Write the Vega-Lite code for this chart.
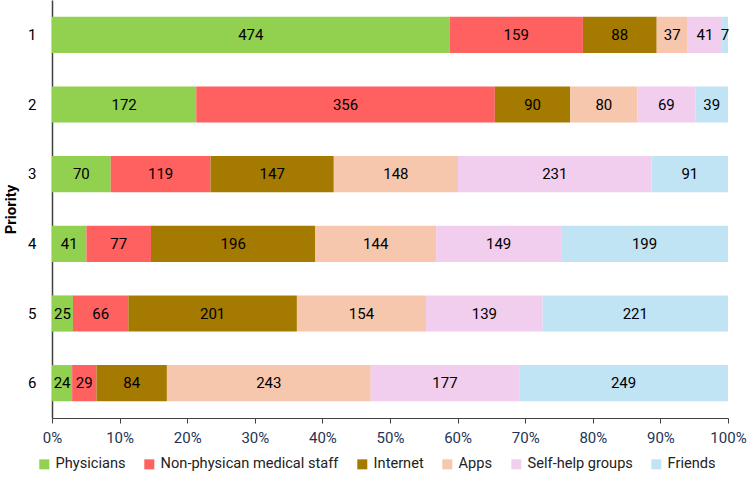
{
  "$schema": "https://vega.github.io/schema/vega-lite/v6.json",
  "autosize": "none",
  "width": 676,
  "height": 418,
  "padding": {"left": 52, "top": 0, "right": 22, "bottom": 63},
  "background": "white",
  "config": {"font": "Roboto", "view": {"stroke": null}},
  "data": {
    "values": [
      {"priority": "1", "category": "Physicians", "ord": 1, "count": 474},
      {"priority": "1", "category": "Non-physican medical staff", "ord": 2, "count": 159},
      {"priority": "1", "category": "Internet", "ord": 3, "count": 88},
      {"priority": "1", "category": "Apps", "ord": 4, "count": 37},
      {"priority": "1", "category": "Self-help groups", "ord": 5, "count": 41},
      {"priority": "1", "category": "Friends", "ord": 6, "count": 7},
      {"priority": "2", "category": "Physicians", "ord": 1, "count": 172},
      {"priority": "2", "category": "Non-physican medical staff", "ord": 2, "count": 356},
      {"priority": "2", "category": "Internet", "ord": 3, "count": 90},
      {"priority": "2", "category": "Apps", "ord": 4, "count": 80},
      {"priority": "2", "category": "Self-help groups", "ord": 5, "count": 69},
      {"priority": "2", "category": "Friends", "ord": 6, "count": 39},
      {"priority": "3", "category": "Physicians", "ord": 1, "count": 70},
      {"priority": "3", "category": "Non-physican medical staff", "ord": 2, "count": 119},
      {"priority": "3", "category": "Internet", "ord": 3, "count": 147},
      {"priority": "3", "category": "Apps", "ord": 4, "count": 148},
      {"priority": "3", "category": "Self-help groups", "ord": 5, "count": 231},
      {"priority": "3", "category": "Friends", "ord": 6, "count": 91},
      {"priority": "4", "category": "Physicians", "ord": 1, "count": 41},
      {"priority": "4", "category": "Non-physican medical staff", "ord": 2, "count": 77},
      {"priority": "4", "category": "Internet", "ord": 3, "count": 196},
      {"priority": "4", "category": "Apps", "ord": 4, "count": 144},
      {"priority": "4", "category": "Self-help groups", "ord": 5, "count": 149},
      {"priority": "4", "category": "Friends", "ord": 6, "count": 199},
      {"priority": "5", "category": "Physicians", "ord": 1, "count": 25},
      {"priority": "5", "category": "Non-physican medical staff", "ord": 2, "count": 66},
      {"priority": "5", "category": "Internet", "ord": 3, "count": 201},
      {"priority": "5", "category": "Apps", "ord": 4, "count": 154},
      {"priority": "5", "category": "Self-help groups", "ord": 5, "count": 139},
      {"priority": "5", "category": "Friends", "ord": 6, "count": 221},
      {"priority": "6", "category": "Physicians", "ord": 1, "count": 24},
      {"priority": "6", "category": "Non-physican medical staff", "ord": 2, "count": 29},
      {"priority": "6", "category": "Internet", "ord": 3, "count": 84},
      {"priority": "6", "category": "Apps", "ord": 4, "count": 243},
      {"priority": "6", "category": "Self-help groups", "ord": 5, "count": 177},
      {"priority": "6", "category": "Friends", "ord": 6, "count": 249}
    ]
  },
  "transform": [
    {"stack": "count", "groupby": ["priority"], "sort": [{"field": "ord", "order": "ascending"}], "offset": "normalize", "as": ["x0", "x1"]},
    {"calculate": "(datum.x0 + datum.x1) / 2", "as": "xm"}
  ],
  "encoding": {
    "y": {
      "field": "priority",
      "type": "ordinal",
      "sort": ["1", "2", "3", "4", "5", "6"],
      "scale": {"paddingInner": 0.48, "paddingOuter": 0.24},
      "axis": {
        "title": "Priority",
        "titleFontWeight": "bold",
        "titleFontSize": 15,
        "titleColor": "#000000",
        "titleAngle": -90,
        "titleX": -42,
        "titleY": 209,
        "titleAlign": "center",
        "titleBaseline": "middle",
        "ticks": false,
        "labelPadding": 16,
        "labelFontSize": 15,
        "labelColor": "#000000",
        "domainColor": "#404040",
        "domainWidth": 1.5
      }
    }
  },
  "layer": [
    {
      "mark": {"type": "bar"},
      "encoding": {
        "x": {
          "field": "x0",
          "type": "quantitative",
          "scale": {"domain": [0, 1], "nice": false},
          "axis": {
            "title": null,
            "values": [0, 0.05, 0.1, 0.15, 0.2, 0.25, 0.3, 0.35, 0.4, 0.45, 0.5, 0.55, 0.6, 0.65, 0.7, 0.75, 0.8, 0.85, 0.9, 0.95, 1],
            "labelExpr": "round(datum.value * 20) % 2 == 0 ? format(datum.value, '.0%') : ''",
            "grid": false,
            "tickSize": 5,
            "tickColor": "#404040",
            "domainColor": "#404040",
            "domainWidth": 1.2,
            "labelFontSize": 15,
            "labelColor": "#1F3455",
            "labelPadding": 7,
            "labelFlush": false
          }
        },
        "x2": {"field": "x1"},
        "color": {
          "field": "category",
          "type": "nominal",
          "scale": {
            "domain": ["Physicians", "Non-physican medical staff", "Internet", "Apps", "Self-help groups", "Friends"],
            "range": ["#92D050", "#FF6161", "#A57A00", "#F6C6AD", "#F2CEEE", "#C1E4F5"]
          },
          "legend": {
            "title": null,
            "orient": "none",
            "direction": "horizontal",
            "legendX": -15,
            "legendY": 457,
            "symbolType": "square",
            "symbolSize": 100,
            "symbolStrokeWidth": 0,
            "labelFontSize": 14.6,
            "labelLimit": 0,
            "labelColor": "#222222",
            "labelOffset": 4,
            "columnPadding": 16
          }
        }
      }
    },
    {
      "mark": {"type": "text", "fontSize": 15, "color": "#000000", "baseline": "middle", "align": "center"},
      "encoding": {
        "x": {"field": "xm", "type": "quantitative"},
        "text": {"field": "count", "type": "quantitative"}
      }
    }
  ]
}
